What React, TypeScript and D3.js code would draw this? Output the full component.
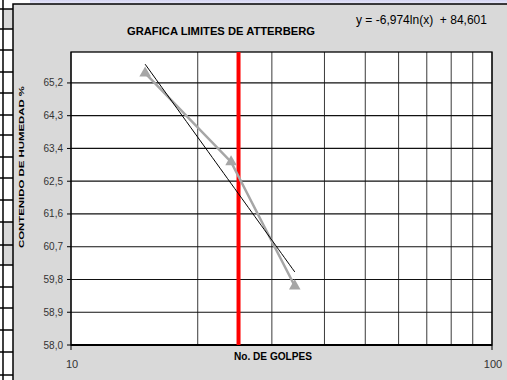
import React from "react";
import * as d3 from "d3";

const golpes = [15, 24, 34];
const humedad = [65.47, 63.03, 59.62];
const yTicks = [58.0, 58.9, 59.8, 60.7, 61.6, 62.5, 63.4, 64.3, 65.2];
const xGrid = [10, 20, 30, 40, 50, 60, 70, 80, 90, 100];
const xLabels = [10, 100];
const trendA = -6.974;
const trendB = 84.601;
const limiteGolpes = 25;
const title = "GRAFICA  LIMITES DE ATTERBERG";
const eqText = "y = -6,974ln(x)  + 84,601";
const yTitle = "CONTENIDO DE HUMEDAD %";
const xTitle = "No. DE GOLPES";
const stripLines = [9, 29, 50, 72, 93, 115, 135, 157, 178, 200, 222, 245, 265, 287, 308, 330, 352, 375];
const stripGray = [[9, 29], [222, 245], [245, 265]];

export default function App() {
  const W = 507, H = 380;
  const L = 71, R = 492, T = 52, B = 345;
  const x = d3.scaleLog().domain([10, 100]).range([L, R]);
  const y = d3.scaleLinear().domain([58, 66.05]).range([B, T]);
  const fmt = (v: number) => v.toFixed(1).replace(".", ",");
  const dataLine = d3.line<number>().x((_, i) => x(golpes[i])).y((d) => y(d))(humedad) || "";
  const xs = d3.range(0, 41).map((i) => golpes[0] + (i / 40) * (golpes[golpes.length - 1] - golpes[0]));
  const trend = d3.line<number>().x((d) => x(d)).y((d) => y(trendA * Math.log(d) + trendB))(xs) || "";
  const tri = d3.symbol().type(d3.symbolTriangle).size(58)() || "";
  const font = "Liberation Sans, Arial, sans-serif";
  return (
    <svg width={W} height={H} style={{ position: "absolute", left: 0, top: 0 }} fontFamily={font}>
      <defs>
        <linearGradient id="topg" x1="0" y1="0" x2="0" y2="1">
          <stop offset="0" stopColor="#c9c9ee" />
          <stop offset="1" stopColor="#ffffff" />
        </linearGradient>
      </defs>
      <rect x={0} y={0} width={W} height={H} fill="#ffffff" />
      <rect x={30} y={0} width={W} height={8} fill="url(#topg)" opacity={0.8} />
      {stripGray.map((g, i) => (
        <rect key={"sg" + i} x={3} y={g[0]} width={10} height={g[1] - g[0]} fill="#d8d8d8" />
      ))}
      <line x1={3} x2={3} y1={0} y2={H} stroke="#000" strokeWidth={1.5} />
      {stripLines.map((v, i) => (
        <line key={"sl" + i} x1={0} x2={13} y1={v} y2={v} stroke="#000" strokeWidth={1.5} />
      ))}
      <rect x={13} y={4} width={W} height={H} fill="#d9d9d9" stroke="#000" strokeWidth={1.5} />
      <rect x={L} y={T} width={R - L} height={B - T} fill="#ffffff" />
      {xGrid.map((v) => (
        <line key={"xg" + v} x1={x(v)} x2={x(v)} y1={T} y2={B} stroke="#3a3a3a" strokeWidth={1} />
      ))}
      {yTicks.map((v) => (
        <line key={"yg" + v} x1={L} x2={R} y1={y(v)} y2={y(v)} stroke="#111" strokeWidth={1.2} />
      ))}
      <rect x={L} y={T} width={R - L} height={B - T} fill="none" stroke="#000" strokeWidth={1.3} />
      <line x1={L} x2={R} y1={B} y2={B} stroke="#000" strokeWidth={2} />
      {yTicks.map((v) => (
        <g key={"yt" + v}>
          <line x1={L - 4} x2={L} y1={y(v)} y2={y(v)} stroke="#000" strokeWidth={1} />
          <text x={63} y={y(v) + 3.5} textAnchor="end" fontSize={10} fill="#333">
            {fmt(v)}
          </text>
        </g>
      ))}
      {xLabels.map((v) => (
        <g key={"xt" + v}>
          <line x1={x(v)} x2={x(v)} y1={B} y2={B + 5} stroke="#000" strokeWidth={1} />
          <text x={x(v) + 1} y={368} textAnchor="middle" fontSize={11} fill="#333">
            {v}
          </text>
        </g>
      ))}
      <line x1={x(limiteGolpes)} x2={x(limiteGolpes)} y1={T} y2={B} stroke="#ff0000" strokeWidth={4} />
      <path d={dataLine} fill="none" stroke="#a6a6a6" strokeWidth={2.5} />
      {humedad.map((d, i) => (
        <path key={"m" + i} d={tri} transform={`translate(${x(golpes[i])},${y(d)})`} fill="#a6a6a6" />
      ))}
      <path d={trend} fill="none" stroke="#000" strokeWidth={1} />
      <text x={221} y={35} textAnchor="middle" fontSize={11} fontWeight="bold" fill="#000" textLength={188} lengthAdjust="spacingAndGlyphs">
        {title}
      </text>
      <text x={356} y={24} fontSize={12} fill="#000" textLength={131} lengthAdjust="spacingAndGlyphs" style={{ whiteSpace: "pre" }}>
        {eqText}
      </text>
      <text x={273} y={360} textAnchor="middle" fontSize={10} fontWeight="bold" fill="#000" textLength={78} lengthAdjust="spacingAndGlyphs">
        {xTitle}
      </text>
      <text transform="translate(24,167) rotate(-90)" textAnchor="middle" fontSize={8} fontWeight="bold" fill="#000" textLength={162} lengthAdjust="spacingAndGlyphs">
        {yTitle}
      </text>
    </svg>
  );
}
